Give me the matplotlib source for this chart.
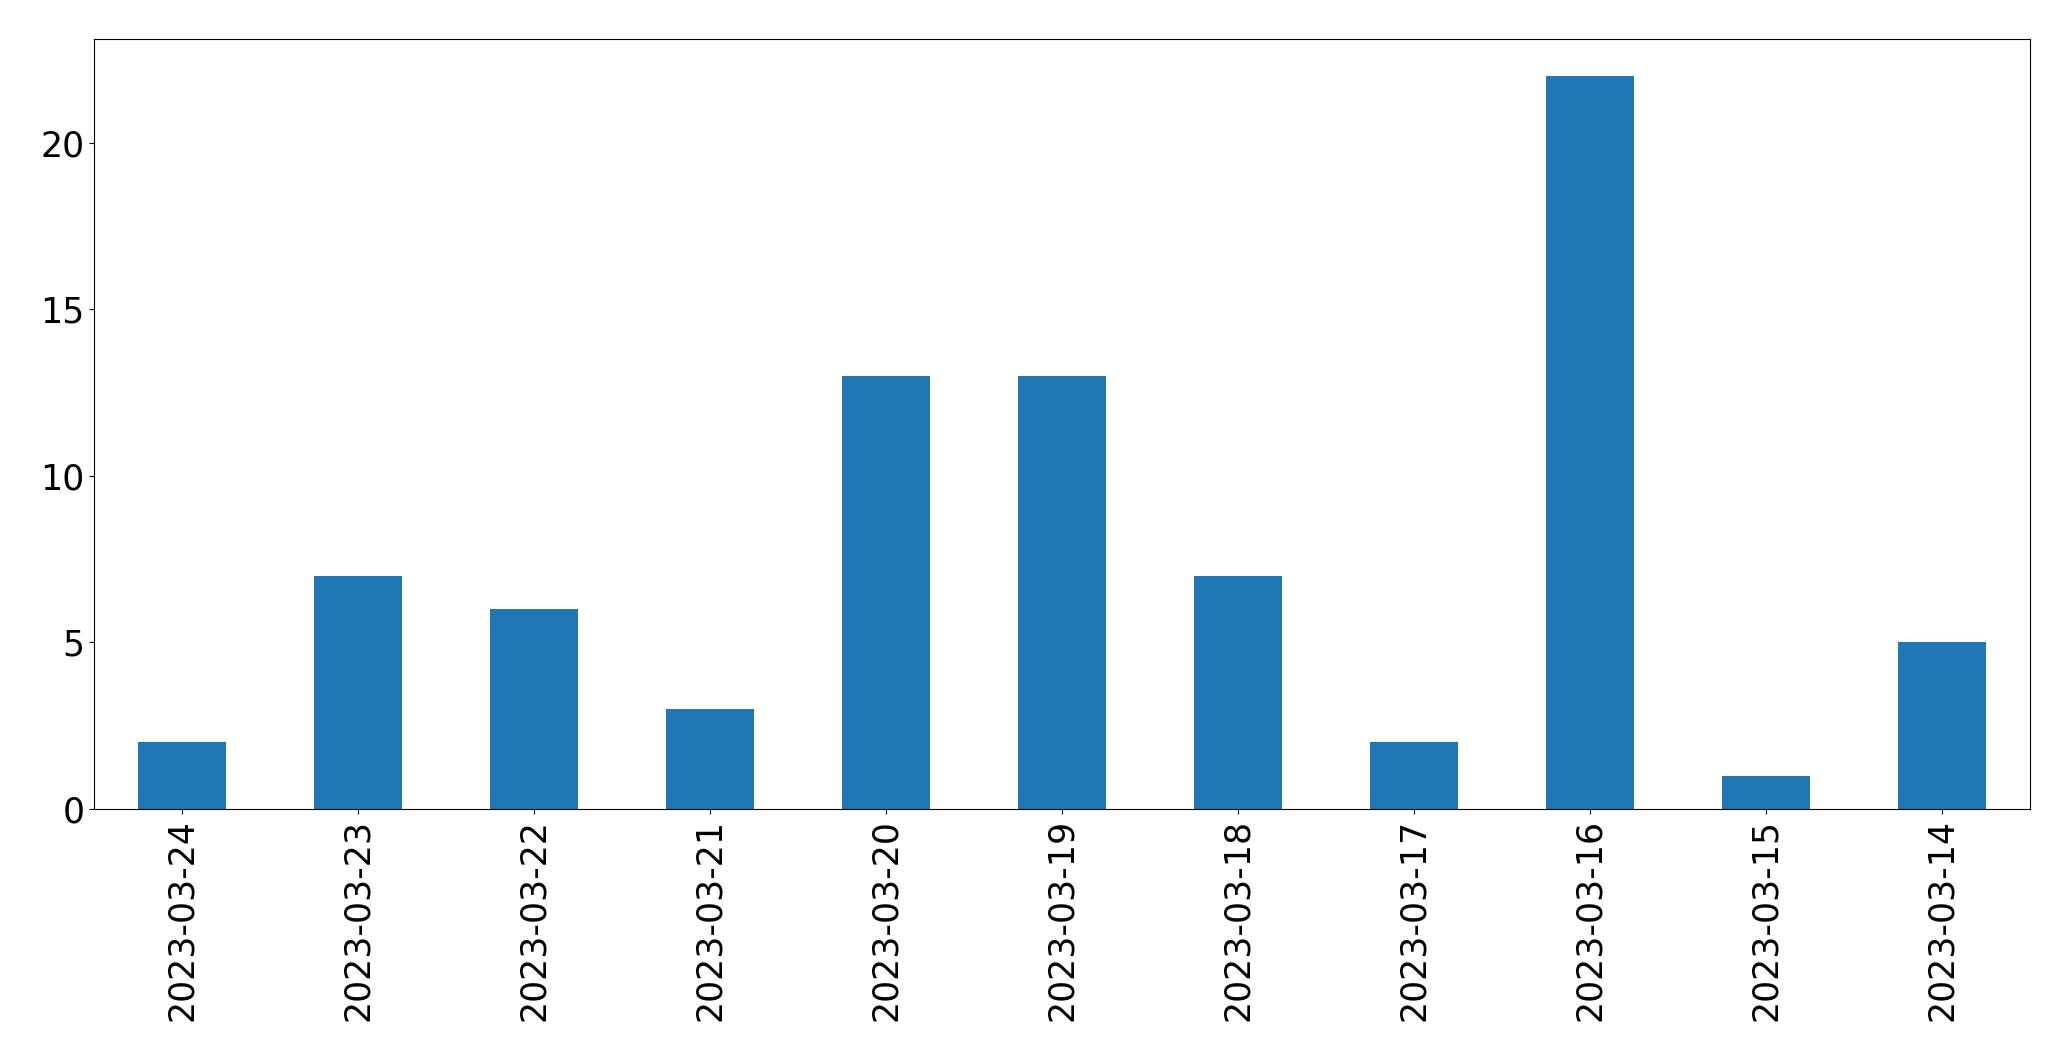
import matplotlib
matplotlib.use('Agg')
import matplotlib.pyplot as plt
import pandas as pd

dates = ['2023-03-24', '2023-03-23', '2023-03-22', '2023-03-21', '2023-03-20',
         '2023-03-19', '2023-03-18', '2023-03-17', '2023-03-16', '2023-03-15',
         '2023-03-14']
counts = [2, 7, 6, 3, 13, 13, 7, 2, 22, 1, 5]

series = pd.Series(counts, index=dates)

fig, ax = plt.subplots(figsize=(20.71, 10.61), dpi=100)
series.plot(kind='bar', ax=ax, color='#1f77b4', fontsize=25)
ax.tick_params(axis='both', labelsize=25)
plt.subplots_adjust(left=0.0454, right=0.980, top=0.963, bottom=0.2375)
plt.savefig('out.png', dpi=100, facecolor='white')
plt.close()
